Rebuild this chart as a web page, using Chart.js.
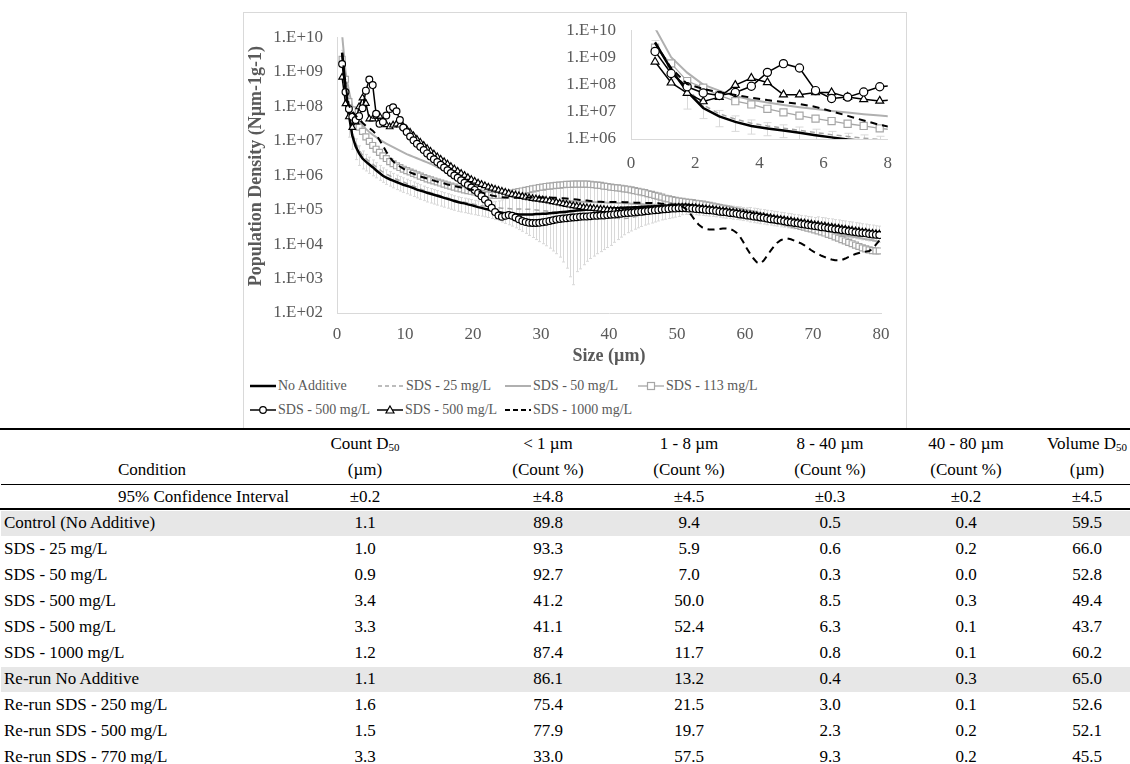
<!DOCTYPE html>
<html><head><meta charset="utf-8">
<script src="https://cdn.jsdelivr.net/npm/chart.js@4.4.1/dist/chart.umd.min.js"></script>
<style>
html,body{margin:0;padding:0;background:#fff;}
body{width:1130px;height:764px;position:relative;overflow:hidden;font-family:"Liberation Serif","Times New Roman",serif;}
#box{position:absolute;left:243px;top:12px;width:664px;height:417px;border:1px solid #d9d9d9;box-sizing:border-box;}
#mainCanvas{position:absolute;left:243px;top:13px;}
#insetCanvas{position:absolute;left:560px;top:5px;}
.lg{position:absolute;font-size:14px;color:#595959;white-space:nowrap;display:flex;align-items:center;height:20px;}
.lg svg{margin-right:2px;}
.tc{position:absolute;font-size:17px;color:#000;white-space:nowrap;line-height:20px;height:20px;}
.tc sub{font-size:11px;vertical-align:-2px;line-height:0;}
.hl{position:absolute;background:#000;}
.band{position:absolute;background:#e7e7e7;}
</style></head>
<body>
<div id="box"></div>
<canvas id="mainCanvas" width="663" height="354"></canvas>
<canvas id="insetCanvas" width="346" height="169"></canvas>
<div id="legend"></div>
<div id="table"></div>
<script>
// ---------------- DATA ----------------
// particle size bins (µm)
const sizes = [
0.75,1.25,1.75,2.25,2.75,3.25,3.75,4.25,4.75,5.25,5.75,6.25,6.75,7.25,7.75,8.25,8.75,9.25,9.75,10.25,
10.75,11.25,11.75,12.25,12.75,13.25,13.75,14.25,14.75,15.25,15.75,16.25,16.75,17.25,17.75,18.25,18.75,19.25,19.75,20.25,
20.75,21.25,21.75,22.25,22.75,23.25,23.75,24.25,24.75,25.25,25.75,26.25,26.75,27.25,27.75,28.25,28.75,29.25,29.75,30.25,
30.75,31.25,31.75,32.25,32.75,33.25,33.75,34.25,34.75,35.25,35.75,36.25,36.75,37.25,37.75,38.25,38.75,39.25,39.75,40.25,
40.75,41.25,41.75,42.25,42.75,43.25,43.75,44.25,44.75,45.25,45.75,46.25,46.75,47.25,47.75,48.25,48.75,49.25,49.75,50.25,
50.75,51.25,51.75,52.25,52.75,53.25,53.75,54.25,54.75,55.25,55.75,56.25,56.75,57.25,57.75,58.25,58.75,59.25,59.75,60.25,
60.75,61.25,61.75,62.25,62.75,63.25,63.75,64.25,64.75,65.25,65.75,66.25,66.75,67.25,67.75,68.25,68.75,69.25,69.75,70.25,
70.75,71.25,71.75,72.25,72.75,73.25,73.75,74.25,74.75,75.25,75.75,76.25,76.75,77.25,77.75,78.25,78.75,79.25,79.75];

const noAdditiveLog = [
9.55,8.55,7.75,7.14,6.83,6.63,6.48,6.39,6.31,6.23,6.14,6.06,5.98,5.93,5.88,5.84,5.80,5.76,5.72,5.69,
5.66,5.62,5.58,5.55,5.52,5.49,5.46,5.43,5.40,5.37,5.34,5.31,5.28,5.25,5.22,5.20,5.18,5.15,5.13,5.10,
5.07,5.05,5.02,5.00,4.97,4.95,4.93,4.91,4.89,4.88,4.87,4.87,4.86,4.86,4.86,4.86,4.86,4.87,4.87,4.88,
4.88,4.89,4.90,4.91,4.92,4.93,4.94,4.95,4.96,4.97,4.98,4.99,5.00,5.00,5.01,5.01,5.02,5.02,5.03,5.03,
5.04,5.04,5.05,5.05,5.06,5.06,5.07,5.07,5.08,5.08,5.09,5.09,5.10,5.10,5.11,5.11,5.12,5.12,5.13,5.13,
5.14,5.14,5.13,5.12,5.11,5.09,5.08,5.06,5.05,5.03,5.02,5.00,4.99,4.97,4.96,4.94,4.93,4.91,4.90,4.88,
4.87,4.85,4.84,4.82,4.81,4.79,4.78,4.76,4.75,4.73,4.72,4.70,4.69,4.67,4.66,4.64,4.63,4.61,4.60,4.58,
4.57,4.55,4.54,4.52,4.51,4.49,4.48,4.46,4.45,4.43,4.41,4.40,4.38,4.37,4.35,4.34,4.32,4.31,4.29];

const sds25Log = [
9.50,8.60,7.85,7.25,6.93,6.73,6.58,6.48,6.40,6.32,6.24,6.16,6.09,6.03,5.98,5.93,5.88,5.84,5.80,5.76,
5.72,5.68,5.64,5.60,5.56,5.52,5.49,5.46,5.43,5.40,5.37,5.34,5.31,5.28,5.25,5.23,5.21,5.19,5.17,5.15,
5.13,5.11,5.10,5.08,5.07,5.06,5.05,5.04,5.03,5.03,5.02,5.02,5.02,5.02,5.01,5.01,5.00,4.99,4.98,4.97,
4.96,4.95,4.94,4.93,4.92,4.91,4.90,4.89,4.88,4.87,4.86,4.85,4.84,4.83,4.82,4.81,4.80,4.79,4.78,4.77,
4.76,4.75,4.74,4.74,4.75,4.77,4.79,4.81,4.83,4.85,4.87,4.89,4.91,4.93,4.95,4.97,4.99,5.01,5.02,5.03,
5.04,5.04,5.04,5.03,5.03,5.02,5.01,5.00,4.99,4.98,4.97,4.96,4.94,4.93,4.92,4.90,4.89,4.88,4.86,4.85,
4.84,4.82,4.81,4.79,4.78,4.76,4.75,4.73,4.72,4.70,4.69,4.67,4.66,4.64,4.63,4.61,4.60,4.58,4.57,4.55,
4.54,4.52,4.51,4.49,4.48,4.46,4.45,4.43,4.42,4.40,4.39,4.37,4.36,4.34,4.33,4.31,4.30,4.28,4.27];

const sds50Log = [
10.08,9.01,8.44,8.00,7.78,7.58,7.44,7.34,7.25,7.17,7.10,7.03,6.97,6.91,6.86,6.81,6.76,6.71,6.66,6.61,
6.57,6.53,6.49,6.45,6.41,6.37,6.33,6.28,6.23,6.18,6.13,6.08,6.03,5.99,5.95,5.91,5.87,5.83,5.79,5.75,
5.71,5.68,5.65,5.62,5.59,5.56,5.53,5.50,5.47,5.44,5.41,5.39,5.37,5.35,5.33,5.31,5.30,5.29,5.28,5.27,
5.27,5.26,5.26,5.25,5.25,5.25,5.24,5.24,5.24,5.23,5.23,5.23,5.22,5.22,5.22,5.21,5.21,5.21,5.20,5.20,
5.20,5.19,5.19,5.18,5.18,5.17,5.17,5.16,5.16,5.15,5.15,5.14,5.14,5.13,5.13,5.12,5.12,5.11,5.11,5.10,
5.09,5.07,5.05,5.04,5.02,5.00,4.98,4.97,4.95,4.93,4.91,4.90,4.88,4.86,4.84,4.83,4.81,4.79,4.77,4.76,
4.74,4.72,4.70,4.69,4.67,4.65,4.63,4.62,4.60,4.58,4.56,4.55,4.53,4.51,4.49,4.48,4.46,4.44,4.42,4.41,
4.39,4.37,4.35,4.34,4.32,4.30,4.28,4.27,4.25,4.23,4.21,4.20,4.18,4.16,4.14,4.13,4.11,4.09,4.08];

const sds113Log = [
9.36,8.78,8.13,7.89,7.60,7.39,7.27,7.11,6.98,6.86,6.75,6.66,6.56,6.48,6.39,6.33,6.27,6.22,6.17,6.13,
6.09,6.05,6.01,5.97,5.93,5.89,5.86,5.83,5.80,5.77,5.74,5.71,5.68,5.65,5.62,5.60,5.57,5.55,5.53,5.51,
5.49,5.47,5.45,5.43,5.42,5.41,5.41,5.42,5.44,5.46,5.48,5.50,5.52,5.54,5.56,5.58,5.60,5.62,5.64,5.65,
5.67,5.68,5.69,5.70,5.71,5.72,5.73,5.73,5.74,5.74,5.74,5.74,5.74,5.73,5.72,5.71,5.70,5.68,5.67,5.65,
5.64,5.63,5.62,5.60,5.59,5.57,5.55,5.53,5.51,5.49,5.46,5.44,5.41,5.39,5.36,5.33,5.31,5.29,5.27,5.25,
5.24,5.22,5.21,5.20,5.18,5.17,5.16,5.14,5.12,5.10,5.08,5.06,5.04,5.02,5.00,4.98,4.96,4.94,4.92,4.90,
4.88,4.86,4.83,4.81,4.78,4.76,4.74,4.71,4.69,4.66,4.64,4.61,4.59,4.56,4.54,4.51,4.49,4.46,4.44,4.41,
4.38,4.35,4.32,4.28,4.25,4.21,4.17,4.13,4.09,4.05,4.01,3.97,3.93,3.89,3.86,3.83,3.81,3.80,3.80];

const sds500aLog = [
9.22,8.41,7.92,7.69,7.60,7.71,7.94,8.45,8.77,8.61,7.78,7.49,7.54,7.73,7.92,7.97,7.85,7.60,7.38,7.25,
7.12,7.01,6.91,6.82,6.73,6.63,6.54,6.46,6.38,6.30,6.22,6.14,6.06,5.99,5.92,5.85,5.78,5.71,5.64,5.57,
5.48,5.39,5.29,5.18,5.05,4.93,4.83,4.79,4.82,4.84,4.82,4.77,4.72,4.67,4.64,4.62,4.61,4.61,4.62,4.63,
4.65,4.67,4.69,4.71,4.73,4.74,4.75,4.76,4.77,4.78,4.79,4.80,4.80,4.81,4.82,4.82,4.83,4.83,4.84,4.85,
4.86,4.87,4.88,4.89,4.90,4.91,4.92,4.93,4.94,4.95,4.96,4.97,4.98,4.99,5.00,5.01,5.02,5.03,5.03,5.04,
5.04,5.04,5.03,5.03,5.02,5.01,5.00,4.99,4.98,4.97,4.96,4.94,4.93,4.92,4.90,4.89,4.88,4.86,4.85,4.83,
4.82,4.80,4.79,4.77,4.76,4.74,4.72,4.71,4.69,4.68,4.66,4.64,4.63,4.61,4.60,4.58,4.57,4.55,4.54,4.52,
4.51,4.49,4.48,4.46,4.45,4.43,4.42,4.40,4.39,4.37,4.36,4.34,4.33,4.32,4.31,4.29,4.28,4.27,4.26];

const sds500bLog = [
8.84,8.07,7.69,7.38,7.54,7.98,8.24,8.08,7.63,7.63,7.71,7.71,7.54,7.46,7.40,7.45,7.48,7.45,7.40,7.33,
7.24,7.14,7.04,6.95,6.86,6.77,6.69,6.61,6.53,6.46,6.39,6.32,6.25,6.18,6.11,6.05,5.99,5.93,5.87,5.82,
5.77,5.73,5.69,5.65,5.62,5.59,5.56,5.53,5.50,5.47,5.44,5.42,5.40,5.38,5.36,5.34,5.32,5.31,5.30,5.28,
5.27,5.25,5.23,5.21,5.19,5.17,5.15,5.13,5.11,5.10,5.08,5.06,5.05,5.04,5.03,5.02,5.01,5.00,4.99,4.98,
4.97,4.96,4.96,4.95,4.95,4.95,4.95,4.96,4.96,4.97,4.98,4.99,5.00,5.01,5.02,5.03,5.04,5.05,5.06,5.07,
5.07,5.07,5.06,5.06,5.05,5.04,5.03,5.02,5.01,5.00,4.99,4.97,4.96,4.95,4.93,4.92,4.91,4.89,4.88,4.86,
4.85,4.83,4.82,4.80,4.79,4.77,4.76,4.74,4.73,4.71,4.70,4.68,4.67,4.65,4.64,4.62,4.61,4.59,4.58,4.56,
4.55,4.53,4.52,4.50,4.49,4.47,4.46,4.44,4.43,4.41,4.40,4.38,4.37,4.35,4.34,4.32,4.31,4.30,4.29];

const sds1000Log = [
9.53,8.61,8.02,7.84,7.72,7.62,7.52,7.43,7.36,7.29,7.18,7.02,6.85,6.68,6.52,6.40,6.32,6.25,6.19,6.13,
6.08,6.04,6.00,5.96,5.93,5.90,5.87,5.84,5.81,5.78,5.76,5.73,5.71,5.68,5.66,5.64,5.62,5.60,5.58,5.56,
5.53,5.50,5.47,5.44,5.41,5.39,5.37,5.36,5.35,5.34,5.34,5.34,5.34,5.34,5.34,5.35,5.35,5.35,5.35,5.35,
5.35,5.35,5.34,5.34,5.33,5.33,5.32,5.31,5.30,5.29,5.28,5.27,5.26,5.25,5.24,5.23,5.23,5.22,5.22,5.22,
5.22,5.22,5.22,5.21,5.21,5.21,5.20,5.20,5.20,5.19,5.19,5.19,5.18,5.18,5.17,5.17,5.16,5.15,5.14,5.12,
5.09,5.03,4.93,4.80,4.66,4.55,4.48,4.44,4.42,4.42,4.43,4.44,4.45,4.45,4.44,4.40,4.33,4.22,4.06,3.88,
3.72,3.58,3.47,3.44,3.52,3.66,3.80,3.93,4.04,4.11,4.15,4.16,4.14,4.10,4.06,4.02,3.96,3.89,3.82,3.76,
3.71,3.66,3.62,3.58,3.55,3.53,3.53,3.54,3.58,3.63,3.67,3.71,3.74,3.77,3.78,3.80,3.86,3.98,4.10];

// light grey error bars: lower and upper ends (log10) at each size bin
const errorBarLowLog = [
9.20,8.20,7.10,6.75,6.45,6.28,6.18,6.12,6.05,5.98,5.92,5.85,5.79,5.73,5.68,5.63,5.58,5.54,5.50,5.46,
5.42,5.38,5.34,5.30,5.26,5.22,5.19,5.16,5.13,5.10,5.07,5.04,5.01,4.98,4.95,4.93,4.91,4.89,4.87,4.85,
4.83,4.81,4.79,4.77,4.74,4.71,4.68,4.64,4.60,4.56,4.52,4.47,4.42,4.37,4.31,4.25,4.19,4.13,4.07,4.01,
3.95,3.88,3.80,3.72,3.62,3.48,3.30,3.05,2.82,3.20,3.28,3.40,3.50,3.58,3.65,3.72,3.78,3.84,3.90,3.96,
4.05,4.13,4.20,4.27,4.33,4.38,4.43,4.47,4.51,4.55,4.58,4.61,4.64,4.67,4.70,4.72,4.74,4.76,4.78,4.80,
4.85,4.86,4.86,4.85,4.85,4.84,4.83,4.82,4.81,4.80,4.79,4.78,4.76,4.75,4.74,4.72,4.71,4.70,4.68,4.67,
4.64,4.62,4.61,4.59,4.58,4.56,4.55,4.53,4.52,4.50,4.49,4.47,4.46,4.44,4.43,4.41,4.40,4.38,4.37,4.35,
4.32,4.30,4.29,4.27,4.26,4.24,4.23,4.21,4.20,4.18,4.17,4.15,4.14,4.12,4.11,4.09,4.08,4.06,4.05];
const errorBarHighLog = [
9.62,8.72,7.97,7.37,7.05,6.85,6.70,6.60,6.52,6.44,6.36,6.28,6.21,6.15,6.10,6.05,6.00,5.96,5.92,5.88,
5.84,5.80,5.76,5.72,5.68,5.64,5.61,5.58,5.55,5.52,5.49,5.46,5.43,5.40,5.37,5.35,5.33,5.31,5.29,5.27,
5.25,5.24,5.23,5.22,5.22,5.23,5.25,5.28,5.32,5.36,5.40,5.43,5.46,5.49,5.51,5.53,5.55,5.57,5.59,5.60,
5.62,5.63,5.64,5.65,5.66,5.67,5.68,5.68,5.69,5.69,5.69,5.69,5.69,5.68,5.67,5.66,5.65,5.63,5.62,5.60,
5.58,5.56,5.54,5.52,5.50,5.47,5.45,5.42,5.40,5.37,5.34,5.32,5.29,5.27,5.25,5.24,5.23,5.22,5.21,5.20,
5.24,5.24,5.24,5.23,5.23,5.22,5.21,5.20,5.19,5.18,5.17,5.16,5.14,5.13,5.12,5.10,5.09,5.08,5.06,5.05,
5.06,5.04,5.03,5.01,5.00,4.98,4.97,4.95,4.94,4.92,4.91,4.89,4.88,4.86,4.85,4.83,4.82,4.80,4.79,4.77,
4.79,4.77,4.76,4.74,4.73,4.71,4.70,4.68,4.67,4.65,4.64,4.62,4.61,4.59,4.58,4.56,4.55,4.53,4.52];

const seriesNames = ['No Additive','SDS - 25 mg/L','SDS - 50 mg/L','SDS - 113 mg/L','SDS - 500 mg/L','SDS - 500 mg/L','SDS - 1000 mg/L'];

const mainXTicks = [0,10,20,30,40,50,60,70,80];
const mainYTicks = [1e2,1e3,1e4,1e5,1e6,1e7,1e8,1e9,1e10];
const mainYTickLabels = ['1.E+02','1.E+03','1.E+04','1.E+05','1.E+06','1.E+07','1.E+08','1.E+09','1.E+10'];
const insetXTicks = [0,2,4,6,8];
const insetYTicks = [1e6,1e7,1e8,1e9,1e10];
const insetYTickLabels = ['1.E+06','1.E+07','1.E+08','1.E+09','1.E+10'];
const xTitle = 'Size (µm)';
const yTitle = 'Population Density (Nµm-1g-1)';

// table
const tableConditions = ['Control (No Additive)','SDS - 25 mg/L','SDS - 50 mg/L','SDS - 500 mg/L','SDS - 500 mg/L','SDS - 1000 mg/L','Re-run No Additive','Re-run SDS - 250 mg/L','Re-run SDS - 500 mg/L','Re-run SDS - 770 mg/L'];
const countD50 = ['1.1','1.0','0.9','3.4','3.3','1.2','1.1','1.6','1.5','3.3'];
const countBelow1 = ['89.8','93.3','92.7','41.2','41.1','87.4','86.1','75.4','77.9','33.0'];
const count1to8 = ['9.4','5.9','7.0','50.0','52.4','11.7','13.2','21.5','19.7','57.5'];
const count8to40 = ['0.5','0.6','0.3','8.5','6.3','0.8','0.4','3.0','2.3','9.3'];
const count40to80 = ['0.4','0.2','0.0','0.3','0.1','0.1','0.3','0.1','0.2','0.2'];
const volumeD50 = ['59.5','66.0','52.8','49.4','43.7','60.2','65.0','52.6','52.1','45.5'];
const confidence = ['±0.2','±4.8','±4.5','±0.3','±0.2','±4.5'];
const headLine1 = ['Count D<sub>50</sub>','&lt; 1 µm','1 - 8 µm','8 - 40 µm','40 - 80 µm','Volume D<sub>50</sub>'];
const headLine2 = ['(µm)','(Count %)','(Count %)','(Count %)','(Count %)','(µm)'];
const highlightedRows = [0, 6];

// ---------------- CHARTS ----------------
const SERIF = '"Liberation Serif","Times New Roman",serif';
const TICK_COLOR = '#595959';
const pts = arr => arr.map((v, i) => ({x: sizes[i], y: Math.pow(10, v)}));

const errorBarPlugin = {
  id: 'errorBars',
  beforeDatasetsDraw(chart, args, opts) {
    const {ctx, chartArea: a, scales: {x, y}} = chart;
    ctx.save();
    ctx.beginPath(); ctx.rect(a.left, a.top, a.right - a.left, a.bottom - a.top); ctx.clip();
    ctx.strokeStyle = '#d9d9d9'; ctx.lineWidth = 1;
    const cap = opts.cap || 2;
    sizes.forEach((s, i) => {
      const px = Math.round(x.getPixelForValue(s)) + 0.5;
      const p1 = y.getPixelForValue(Math.pow(10, errorBarLowLog[i]));
      const p2 = y.getPixelForValue(Math.pow(10, errorBarHighLog[i]));
      ctx.beginPath();
      ctx.moveTo(px, p1); ctx.lineTo(px, p2);
      ctx.moveTo(px - cap, p1); ctx.lineTo(px + cap, p1);
      ctx.moveTo(px - cap, p2); ctx.lineTo(px + cap, p2);
      ctx.stroke();
    });
    ctx.restore();
  }
};

function makeDatasets(r) {
  return [
    {label: seriesNames[0], data: pts(noAdditiveLog), borderColor:'#000', borderWidth:2.5, pointRadius:0, order:3},
    {label: seriesNames[1], data: pts(sds25Log), borderColor:'#a6a6a6', borderWidth:1.5, borderDash:[5,4], pointRadius:0, order:5},
    {label: seriesNames[2], data: pts(sds50Log), borderColor:'#b0b0b0', borderWidth:2, pointRadius:0, order:6},
    {label: seriesNames[3], data: pts(sds113Log), borderColor:'#a6a6a6', borderWidth:1.3, pointStyle:'rect', pointRadius:4.2*r, pointBorderColor:'#a6a6a6', pointBackgroundColor:'#fff', pointBorderWidth:1.2, order:4},
    {label: seriesNames[4], data: pts(sds500aLog), borderColor:'#000', borderWidth:1.5, pointStyle:'circle', pointRadius:3.4*r, pointBorderColor:'#000', pointBackgroundColor:'#fff', pointBorderWidth:1.2, order:1},
    {label: seriesNames[5], data: pts(sds500bLog), borderColor:'#000', borderWidth:1.5, pointStyle:'triangle', pointRadius:3.8*r, pointBorderColor:'#000', pointBackgroundColor:'#fff', pointBorderWidth:1.2, order:2},
    {label: seriesNames[6], data: pts(sds1000Log), borderColor:'#000', borderWidth:2, borderDash:[7,5], pointRadius:0, order:0}
  ];
}

function chartOptions(cfg) {
  return {
    responsive:false, animation:false, devicePixelRatio:1,
    layout:{padding:cfg.padding},
    plugins:{legend:{display:false}, tooltip:{enabled:false}, errorBars:{cap:cfg.cap}},
    elements:{line:{tension:0}},
    scales:{
      x:{type:'linear', min:cfg.xTicks[0], max:cfg.xTicks[cfg.xTicks.length-1],
         afterBuildTicks:s=>{s.ticks = cfg.xTicks.map(v=>({value:v}));},
         afterFit:s=>{s.height = cfg.xHeight;},
         grid:{display:false, drawTicks:false, tickLength:0},
         border:{display:true, color:'#d9d9d9', width:1},
         ticks:{autoSkip:false, maxRotation:0, padding:cfg.xPad, color:TICK_COLOR, font:{family:SERIF, size:17}},
         title:{display:!!cfg.xTitle, text:cfg.xTitle || '', color:TICK_COLOR, font:{family:SERIF, size:18, weight:'bold'}, padding:{top:0,bottom:0}}},
      y:{type:'logarithmic', min:cfg.yTicks[0], max:cfg.yTicks[cfg.yTicks.length-1],
         afterBuildTicks:s=>{s.ticks = cfg.yTicks.map(v=>({value:v}));},
         afterFit:s=>{s.width = cfg.yWidth;},
         grid:{display:false, drawTicks:false, tickLength:0},
         border:{display:true, color:'#d9d9d9', width:1},
         ticks:{autoSkip:false, padding:cfg.yPad, color:TICK_COLOR, font:{family:SERIF, size:17},
                callback:(v, i) => cfg.yLabels[i]},
         title:{display:!!cfg.yTitle, text:cfg.yTitle || '', color:TICK_COLOR, font:{family:SERIF, size:18, weight:'bold'}, padding:{top:3,bottom:0}}}
    }
  };
}

new Chart(document.getElementById('mainCanvas'), {
  type:'line',
  data:{datasets: makeDatasets(1)},
  options: chartOptions({padding:{top:23,right:25,bottom:0,left:0}, cap:1.5, xTicks:mainXTicks, yTicks:mainYTicks, yLabels:mainYTickLabels,
    xHeight:54, yWidth:94, xPad:11, yPad:14, xTitle:xTitle, yTitle:'    ' + yTitle}),
  plugins:[errorBarPlugin]
});

new Chart(document.getElementById('insetCanvas'), {
  type:'line',
  data:{datasets: makeDatasets(1.2)},
  options: chartOptions({padding:{top:18,right:16,bottom:0,left:0}, cap:4, xTicks:insetXTicks, yTicks:insetYTicks, yLabels:insetYTickLabels,
    xHeight:35, yWidth:71, xPad:14, yPad:15}),
  plugins:[errorBarPlugin]
});

// ---------------- LEGEND ----------------
const legendSwatches = [
  '<line x1="0" y1="6" x2="26" y2="6" stroke="#000" stroke-width="2.5"/>',
  '<line x1="0" y1="6" x2="26" y2="6" stroke="#a6a6a6" stroke-width="1.5" stroke-dasharray="4,3"/>',
  '<line x1="0" y1="6" x2="26" y2="6" stroke="#b0b0b0" stroke-width="2"/>',
  '<line x1="0" y1="6" x2="26" y2="6" stroke="#a6a6a6" stroke-width="1.3"/><rect x="9.5" y="2.5" width="7" height="7" fill="#fff" stroke="#a6a6a6" stroke-width="1.2"/>',
  '<line x1="0" y1="6" x2="26" y2="6" stroke="#000" stroke-width="1.5"/><circle cx="13" cy="6" r="3.3" fill="#fff" stroke="#000" stroke-width="1.2"/>',
  '<line x1="0" y1="6" x2="26" y2="6" stroke="#000" stroke-width="1.5"/><polygon points="13,2 17,9 9,9" fill="#fff" stroke="#000" stroke-width="1.2"/>',
  '<line x1="0" y1="6" x2="26" y2="6" stroke="#000" stroke-width="2" stroke-dasharray="5,3"/>'
];
const legendPos = [[250,376],[378,376],[505,376],[638,376],[250,400],[377,400],[505,400]];
const lg = document.getElementById('legend');
seriesNames.forEach((name, i) => {
  const d = document.createElement('div');
  d.className = 'lg';
  d.style.left = legendPos[i][0] + 'px'; d.style.top = legendPos[i][1] + 'px';
  d.innerHTML = '<svg width="26" height="12" viewBox="0 0 26 12">' + legendSwatches[i] + '</svg><span>' + name + '</span>';
  lg.appendChild(d);
});

// ---------------- TABLE ----------------
const tbl = document.getElementById('table');
const colCenters = [365, 548, 689, 830, 966, 1087];
function cell(html, x, yc, align) {
  const d = document.createElement('div');
  d.className = 'tc';
  d.innerHTML = html;
  d.style.top = (yc - 10) + 'px';
  d.style.left = x + 'px';
  if (align === 'center') d.style.transform = 'translateX(-50%)';
  tbl.appendChild(d);
}
function hline(y, h, x0) {
  const d = document.createElement('div');
  d.className = 'hl'; d.style.left = x0 + 'px'; d.style.top = y + 'px';
  d.style.width = (1130 - x0) + 'px'; d.style.height = h + 'px';
  tbl.appendChild(d);
}
const rowY = tableConditions.map((_, i) => 523 + 26 * i);
highlightedRows.forEach(i => {
  const b = document.createElement('div');
  b.className = 'band'; b.style.left = '1px'; b.style.top = (rowY[i] - 12) + 'px';
  b.style.width = '1129px'; b.style.height = '25px';
  tbl.appendChild(b);
});
hline(428, 2, 0);
hline(484, 1, 1);
hline(508, 2, 0);
headLine1.forEach((h, j) => cell(h, colCenters[j], 444, 'center'));
cell('Condition', 118, 470);
headLine2.forEach((h, j) => cell(h, colCenters[j], 470, 'center'));
cell('95% Confidence Interval', 118, 497);
confidence.forEach((h, j) => cell(h, colCenters[j], 497, 'center'));
const cols = [countD50, countBelow1, count1to8, count8to40, count40to80, volumeD50];
tableConditions.forEach((c, i) => {
  cell(c, 4, rowY[i]);
  cols.forEach((col, j) => cell(col[i], colCenters[j], rowY[i], 'center'));
});
</script>
</body></html>
